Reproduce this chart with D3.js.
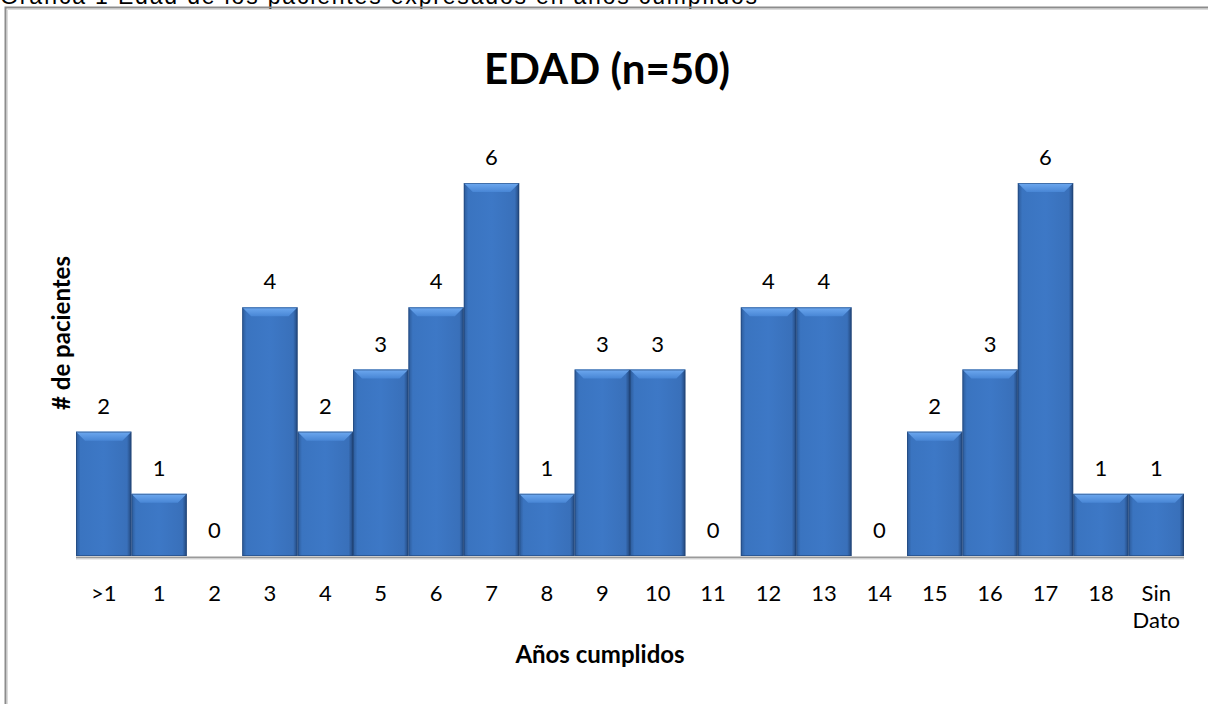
<!DOCTYPE html>
<html>
<head>
<meta charset="utf-8">
<script src="https://cdn.jsdelivr.net/npm/d3@7"></script>
<style>
  body { margin: 0; background: #fff; }
  svg { display: block; }
</style>
</head>
<body>
<div id="app"></div>
<script>
const categories = [">1", "1", "2", "3", "4", "5", "6", "7", "8", "9", "10", "11", "12", "13", "14", "15", "16", "17", "18", "Sin Dato"];
const values = [2, 1, 0, 4, 2, 3, 4, 6, 1, 3, 3, 0, 4, 4, 0, 2, 3, 6, 1, 1];
const dataset = categories.map((c, i) => ({ name: c, value: values[i] }));

const width = 1208;
const height = 704;
const left = 76, right = 1184, base = 556;
const font = 'Lato, Carlito, Calibri, sans-serif';

const svg = d3.select('#app')
  .append('svg')
  .attr('width', width)
  .attr('height', height);

// caption above the chart box, cut by the top edge as in the document
svg.append('text')
  .attr('x', 0)
  .attr('y', 4)
  .attr('font-family', 'Liberation Sans, Arial, sans-serif')
  .attr('font-size', 23)
  .attr('textLength', 757)
  .attr('fill', '#000')
  .text('Gráfica 1 Edad de los pacientes expresados en años cumplidos');

// chart frame
svg.append('path')
  .attr('d', `M5.5,${height} V7.5 H${width}`)
  .attr('fill', 'none')
  .attr('stroke', '#8c8c8c')
  .attr('stroke-width', 2);
svg.append('path')
  .attr('d', `M7.5,${height} V9.5 H${width}`)
  .attr('fill', 'none')
  .attr('stroke', '#dcdcdc')
  .attr('stroke-width', 1);

const xScale = d3.scaleBand()
  .range([left, right])
  .padding(0)
  .domain(categories);

const yScale = d3.scaleLinear()
  .domain([0, 6])
  .range([base, 183]);

const defs = svg.append('defs');
const g1 = defs.append('linearGradient').attr('id', 'barFill').attr('x1', 0).attr('x2', 1).attr('y1', 0).attr('y2', 0);
g1.append('stop').attr('offset', '0%').attr('stop-color', '#2c5a98');
g1.append('stop').attr('offset', '8%').attr('stop-color', '#3a74c0');
g1.append('stop').attr('offset', '50%').attr('stop-color', '#3d78c6');
g1.append('stop').attr('offset', '92%').attr('stop-color', '#3970ba');
g1.append('stop').attr('offset', '100%').attr('stop-color', '#22467a');
const g2 = defs.append('linearGradient').attr('id', 'bevel').attr('x1', 0).attr('x2', 0).attr('y1', 0).attr('y2', 1);
g2.append('stop').attr('offset', '0%').attr('stop-color', '#6ea9f0');
g2.append('stop').attr('offset', '100%').attr('stop-color', '#4886d5');

// axis line with a small shadow
svg.append('line')
  .attr('x1', left).attr('x2', right)
  .attr('y1', base + 1.5).attr('y2', base + 1.5)
  .attr('stroke', '#9a9a9a').attr('stroke-width', 2);
svg.append('line')
  .attr('x1', left).attr('x2', right)
  .attr('y1', base + 3).attr('y2', base + 3)
  .attr('stroke', '#d8d8d8').attr('stroke-width', 1);

const bars = svg.append('g')
  .selectAll('g')
  .data(dataset.filter(d => d.value > 0))
  .enter()
  .append('g');

const bw = xScale.bandwidth();
const bev = 9;

bars.append('rect')
  .attr('x', d => xScale(d.name))
  .attr('y', d => yScale(d.value))
  .attr('width', bw)
  .attr('height', d => base - yScale(d.value))
  .attr('fill', 'url(#barFill)');

// top bevel
bars.append('path')
  .attr('d', d => {
    const x0 = xScale(d.name), y0 = yScale(d.value);
    return `M${x0},${y0} H${x0 + bw} L${x0 + bw - bev},${y0 + bev} H${x0 + bev} Z`;
  })
  .attr('fill', 'url(#bevel)');

// darker outline
bars.append('rect')
  .attr('x', d => xScale(d.name) + 0.5)
  .attr('y', d => yScale(d.value) + 0.5)
  .attr('width', bw - 1)
  .attr('height', d => base - yScale(d.value) - 1)
  .attr('fill', 'none')
  .attr('stroke', '#1f4272')
  .attr('stroke-opacity', 0.55)
  .attr('stroke-width', 1);

// value labels
svg.append('g')
  .selectAll('text')
  .data(dataset)
  .enter()
  .append('text')
  .attr('x', d => xScale(d.name) + bw / 2)
  .attr('y', d => yScale(d.value) - 18)
  .attr('text-anchor', 'middle')
  .attr('font-family', font)
  .attr('font-size', 22)
  .attr('fill', '#000')
  .text(d => d.value);

// category labels
const xAxis = svg.append('g')
  .attr('transform', `translate(0, ${base})`)
  .call(d3.axisBottom(xScale).tickSize(0).tickPadding(0).tickFormat(() => ''));
xAxis.select('.domain').remove();
xAxis.selectAll('.tick text').remove();
xAxis.selectAll('.tick')
  .append('text')
  .attr('text-anchor', 'middle')
  .attr('font-family', font)
  .attr('font-size', 22)
  .attr('fill', '#000')
  .each(function(d) {
    const parts = d.split(' ');
    d3.select(this).selectAll('tspan')
      .data(parts)
      .enter()
      .append('tspan')
      .attr('x', 0)
      .attr('y', (p, i) => 45 + i * 27)
      .text(p => p);
  });

// axis titles
svg.append('text')
  .attr('x', 600)
  .attr('y', 663)
  .attr('text-anchor', 'middle')
  .attr('font-family', font)
  .attr('font-weight', 'bold')
  .attr('font-size', 24)
  .text('Años cumplidos');

svg.append('text')
  .attr('transform', 'translate(70, 333) rotate(-90)')
  .attr('text-anchor', 'middle')
  .attr('font-family', font)
  .attr('font-weight', 'bold')
  .attr('font-size', 24)
  .text('# de pacientes');

// chart title
svg.append('text')
  .attr('x', 607)
  .attr('y', 84)
  .attr('text-anchor', 'middle')
  .attr('font-family', font)
  .attr('font-weight', 'bold')
  .attr('font-size', 42)
  .text('EDAD (n=50)');
</script>
</body>
</html>
